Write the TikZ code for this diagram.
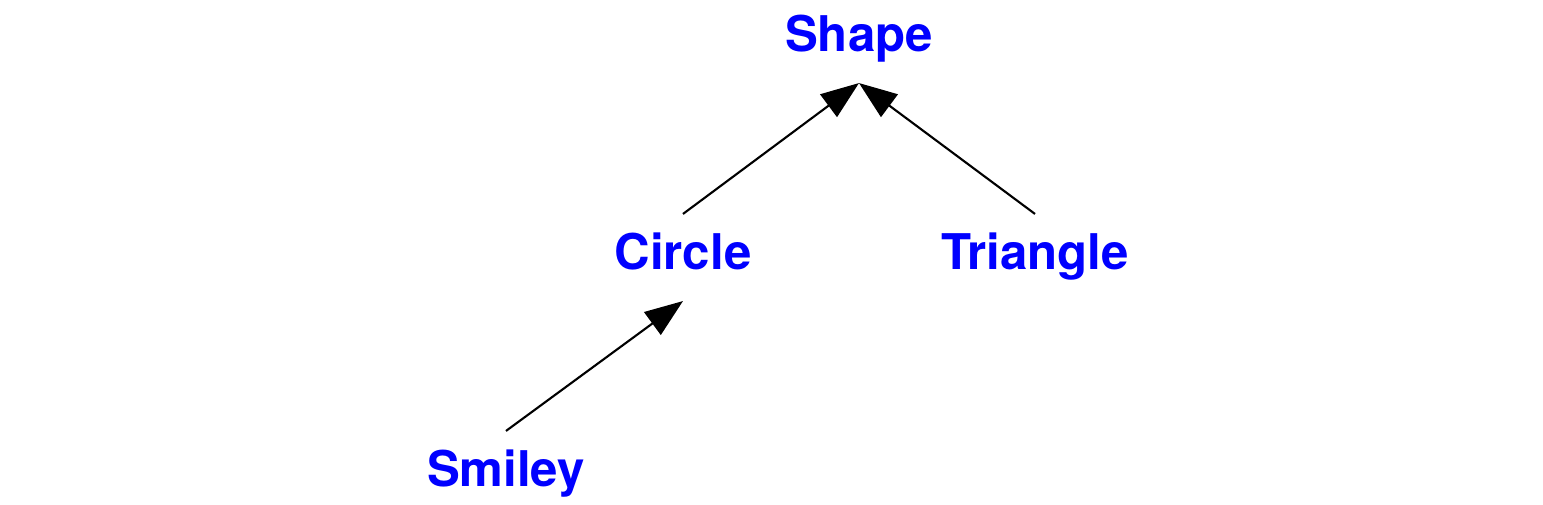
\documentclass[tikz,border=0pt]{standalone}
\usepackage{fontspec}
\setmainfont{TeX Gyre Heros}
\usepackage{tikz}
\usetikzlibrary{arrows.meta}

\begin{document}
\begin{tikzpicture}[-{Triangle[length=3.8mm,width=2.8mm]}
  ,line width=0.6pt
  ,auto]
  \tikzstyle{every node}=[
  text=blue, font=\fontsize{14}{16}\selectfont\bfseries,
  anchor=base, inner xsep=0pt, inner ysep=0.2cm,
  text height=0.35cm, text depth=0.1cm]

  \useasboundingbox (0,0) rectangle (15.43,5.05);

  % top
  \node (shape) at (8.59,4.53) {Shape};
  % middle row
  \node (circle) at (6.83,2.35) {Circle};
  \node (triangle) at (10.35,2.35) {Triangle};
  % bottom
  \node (smiley) at (5.06,0.18) {Smiley};

  \path
  (circle.north) edge (shape.south)
  (triangle.north) edge (shape.south)
  (smiley.north) edge (circle.south)
  ;

\end{tikzpicture}
\end{document}
